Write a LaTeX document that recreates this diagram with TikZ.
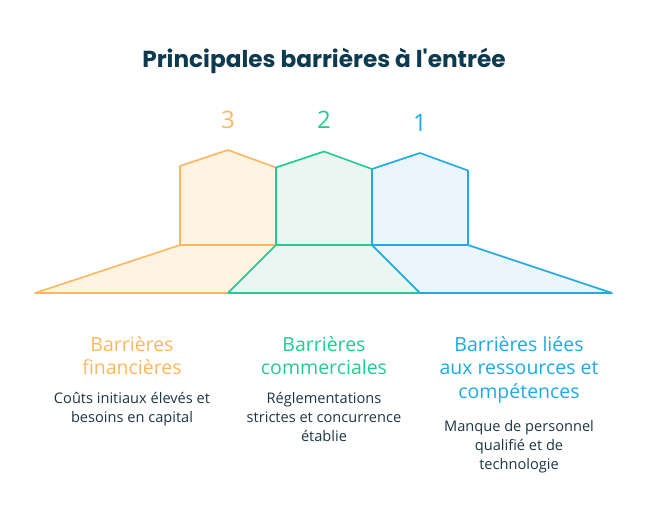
\documentclass[tikz,border=0pt]{standalone}
\usepackage{fontspec}
\setmainfont{Open Sans}
\newfontfamily\titlefont{Poppins}
\usetikzlibrary{positioning}
\definecolor{BarOrange}{HTML}{FFB65E}
\definecolor{BarOrangeFill}{HTML}{FFF3E1}
\definecolor{BarGreen}{HTML}{22CC8E}
\definecolor{BarGreenFill}{HTML}{E9F6F1}
\definecolor{BarBlue}{HTML}{1DAAE6}
\definecolor{BarBlueFill}{HTML}{EAF6FC}
\definecolor{BarNavy}{HTML}{0E3A4F}
\definecolor{BarText}{HTML}{1B3546}

\begin{document}
\begin{tikzpicture}[x=1pt,y=-1pt]
    \tikzset{barpiece/.style={line width=1.6pt,line join=round},
      barnum/.style={font=\fontsize{24}{26}\selectfont,inner sep=0pt},
      barhead/.style={align=center,inner sep=0pt,font=\fontsize{19.5}{23.8}\selectfont},
      bartext/.style={align=center,inner sep=0pt,text=BarText,font=\fontsize{14.6}{19}\selectfont}}
    \useasboundingbox (0,0) rectangle (648,528);
    \node[font=\titlefont\bfseries\fontsize{23.2}{26}\selectfont,text=BarNavy] (title) at (324,61)
      {Principales barrières à l'entrée};
    % financial piece
    \draw[barpiece,draw=BarOrange,fill=BarOrangeFill]
      (180,245) -- (180,166) -- (228,150) -- (276,167.5) -- (276,245) -- cycle;
    \draw[barpiece,draw=BarOrange,fill=BarOrangeFill]
      (35,293) -- (228,293) -- (276,245) -- (180,245) -- cycle;
    % commercial piece
    \draw[barpiece,draw=BarGreen,fill=BarGreenFill]
      (276,245) -- (276,167.5) -- (324,151.5) -- (372,169) -- (372,245) -- cycle;
    \draw[barpiece,draw=BarGreen,fill=BarGreenFill]
      (228,293) -- (420,293) -- (372,245) -- (276,245) -- cycle;
    % resources piece
    \draw[barpiece,draw=BarBlue,fill=BarBlueFill]
      (372,245) -- (372,169) -- (420,153) -- (468,170.5) -- (468,245) -- cycle;
    \draw[barpiece,draw=BarBlue,fill=BarBlueFill]
      (420,293) -- (612,293) -- (468,245) -- (372,245) -- cycle;
    \node[barnum,text=BarOrange] (n3) at (228,120) {3};
    \node[barnum,text=BarGreen] (n2) at (324,120) {2};
    \node[barnum,text=BarBlue] (n1) at (420,123) {1};
    % labels
    \node[barhead,text=BarOrange,anchor=north] (hfin) at (132,336) {Barrières\\financières};
    \node[bartext,below=17pt of hfin] (tfin) {Coûts initiaux élevés et\\besoins en capital};
    \node[barhead,text=BarGreen,anchor=north] (hcom) at (324,336) {Barrières\\commerciales};
    \node[bartext,below=17pt of hcom] (tcom) {Réglementations\\strictes et concurrence\\établie};
    \node[barhead,text=BarBlue,anchor=north] (hres) at (519,336) {Barrières liées\\aux ressources et\\compétences};
    \node[bartext,below=17pt of hres] (tres) {Manque de personnel\\qualifié et de\\technologie};
  \end{tikzpicture}
\end{document}
